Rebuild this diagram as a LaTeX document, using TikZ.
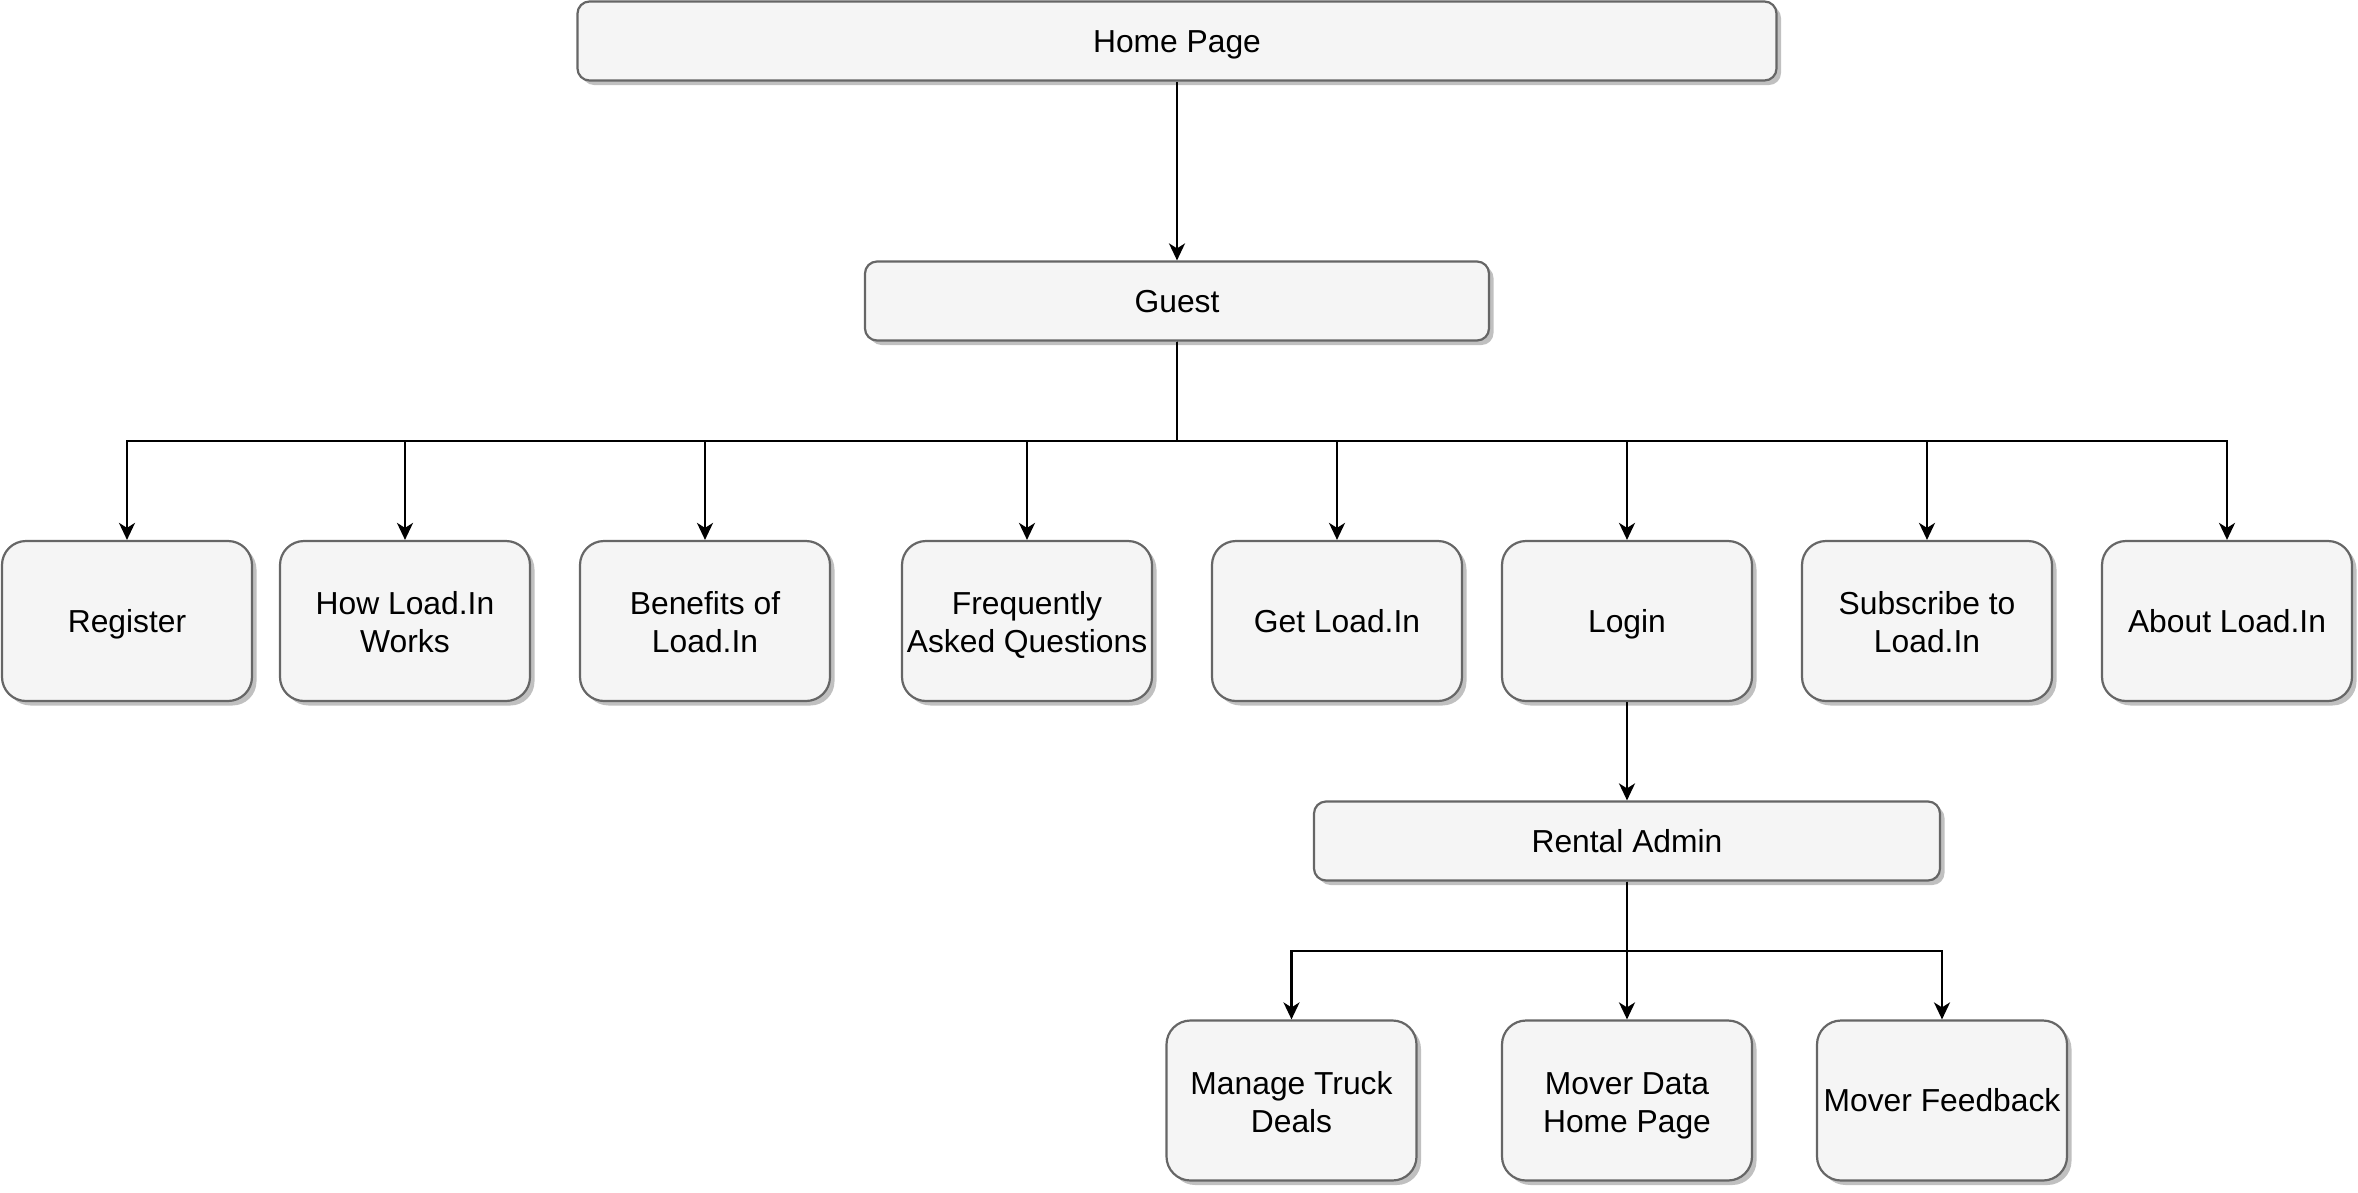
\documentclass[tikz,border=0pt]{standalone}
\usepackage{fontspec}
\setmainfont{Liberation Sans}
\usetikzlibrary{arrows.meta,shadows}
\definecolor{boxfill}{HTML}{F5F5F5}
\definecolor{boxline}{HTML}{666666}
\definecolor{boxshade}{HTML}{C0C0C0}
\begin{document}
\begin{tikzpicture}[x=1pt, y=-1pt,
    page/.style={rectangle, draw=boxline, fill=boxfill, line width=2.2pt,
        inner sep=0pt, align=center, font=\fontsize{31.8}{38.2}\selectfont,
        text height=30.1pt, text depth=8.1pt,
        drop shadow={shadow xshift=4.5pt, shadow yshift=-4.5pt, fill=boxshade, opacity=1}},
    twolines/.style={text height=71.5pt},
    widepage/.style={page, rounded corners=12pt, minimum height=79pt},
    smallpage/.style={page, rounded corners=24pt, minimum width=250pt, minimum height=160pt},
    link/.style={line width=2.4pt, -{Stealth[length=17pt, width=16pt, inset=5pt]}}]
    \useasboundingbox (0,0) rectangle (2358,1192);
    \node[widepage, minimum width=1199pt] (home) at (1177,41) {Home Page};
    \node[widepage, minimum width=624pt] (guest) at (1177,301) {Guest};
    \node[smallpage] (register) at (127,621) {Register};
    \node[smallpage, twolines] (howworks) at (405,621) {How Load.In\\Works};
    \node[smallpage, twolines] (benefits) at (705,621) {Benefits of\\Load.In};
    \node[smallpage, twolines] (faq) at (1027,621) {Frequently\\Asked Questions};
    \node[smallpage] (getapp) at (1337,621) {Get Load.In};
    \node[smallpage] (login) at (1627,621) {Login};
    \node[smallpage, twolines] (subscribe) at (1927,621) {Subscribe to\\Load.In};
    \node[smallpage] (about) at (2227,621) {About Load.In};
    \node[widepage, minimum width=626pt] (rental) at (1627,841) {Rental Admin};
    \node[smallpage, twolines] (trucks) at (1291.5,1100.5) {Manage Truck\\Deals};
    \node[smallpage, twolines] (moverdata) at (1627,1100.5) {Mover Data\\Home Page};
    \node[smallpage] (feedback) at (1942,1100.5) {Mover Feedback};
    \coordinate (guestbus) at (1177,441);
    \coordinate (rentalbus) at (1627,951);
    \draw[link] (home) -- (guest);
    \draw[link] (guest.south) |- (guestbus) -| (register.north);
    \draw[link] (guest.south) |- (guestbus) -| (howworks.north);
    \draw[link] (guest.south) |- (guestbus) -| (benefits.north);
    \draw[link] (guest.south) |- (guestbus) -| (faq.north);
    \draw[link] (guest.south) |- (guestbus) -| (getapp.north);
    \draw[link] (guest.south) |- (guestbus) -| (login.north);
    \draw[link] (guest.south) |- (guestbus) -| (subscribe.north);
    \draw[link] (guest.south) |- (guestbus) -| (about.north);
    \draw[link] (login) -- (rental);
    \draw[link] (rental.south) |- (rentalbus) -| (trucks.north);
    \draw[link] (rental.south) -- (moverdata.north);
    \draw[link] (rental.south) |- (rentalbus) -| (feedback.north);
\end{tikzpicture}
\end{document}
